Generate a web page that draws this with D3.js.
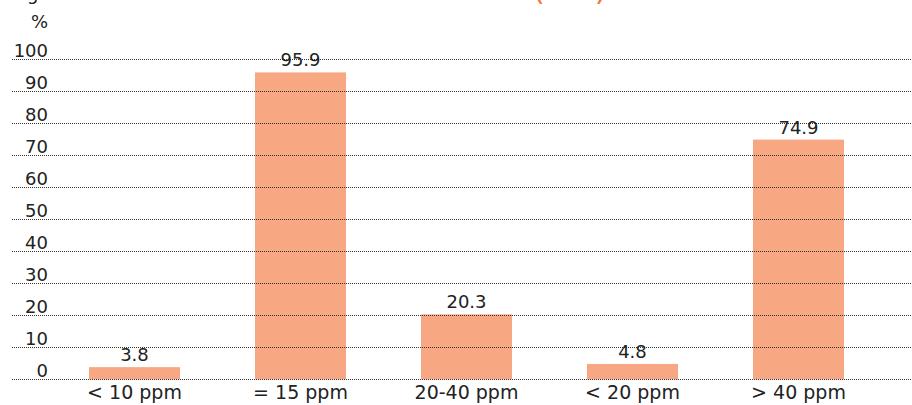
<!DOCTYPE html>
<html>
<head>
<meta charset="utf-8">
<script src="https://cdn.jsdelivr.net/npm/d3@7/dist/d3.min.js"></script>
<style>
  html, body { margin: 0; padding: 0; background: #fff; }
  svg { display: block; font-family: "DejaVu Sans", Verdana, sans-serif; }
</style>
</head>
<body>
<svg id="chart" width="912" height="405"></svg>
<script>
// Share of fuel by sulphur content, %
const categories = ["< 10 ppm", "= 15 ppm", "20-40 ppm", "< 20 ppm", "> 40 ppm"];
const values = [3.8, 95.9, 20.3, 4.8, 74.9];
const yTicks = [0, 10, 20, 30, 40, 50, 60, 70, 80, 90, 100];
const unitLabel = "%";
const titleText = "Figure 1. Sulfur content of motor fuels";
const titleNote = "(2005)";

const W = 912, H = 405;
const svg = d3.select("#chart");

const x = d3.scaleBand()
  .domain(categories)
  .range([51.5, 881.5])
  .paddingInner(0.452)
  .paddingOuter(0.226);

const y = d3.scaleLinear()
  .domain([0, 100])
  .range([379.3, 59.3]);

const barColor = "#F7A781";
const textColor = "#222";

// Title line, sitting above the top edge of the chart area
svg.append("text")
  .attr("x", 13).attr("y", 0)
  .attr("font-size", 18)
  .attr("fill", textColor)
  .text(titleText);
const note = svg.append("text")
  .attr("x", 533).attr("y", 0)
  .attr("fill", "#F4773F");
note.append("tspan").attr("font-size", 30).text(titleNote.slice(0, 1));
note.append("tspan").attr("font-size", 18).attr("font-weight", "bold").attr("dy", -3).text(titleNote.slice(1, -1));
note.append("tspan").attr("font-size", 30).attr("dy", 3).text(titleNote.slice(-1));

// Bars
svg.append("g").selectAll("rect")
  .data(values)
  .join("rect")
  .attr("x", (d, i) => x(categories[i]))
  .attr("width", x.bandwidth())
  .attr("y", d => y(d))
  .attr("height", d => y(0) - y(d))
  .attr("fill", barColor);

// Dotted gridlines drawn over the bars
svg.append("g").selectAll("line")
  .data(yTicks)
  .join("line")
  .attr("x1", 12).attr("x2", W)
  .attr("y1", d => Math.round(y(d)) + 0.5)
  .attr("y2", d => Math.round(y(d)) + 0.5)
  .attr("stroke", "#333")
  .attr("stroke-width", 1)
  .attr("stroke-dasharray", "1,1");

// Y tick labels
svg.append("g").selectAll("text")
  .data(yTicks)
  .join("text")
  .attr("x", 48)
  .attr("y", d => y(d) - 2.5)
  .attr("text-anchor", "end")
  .attr("font-size", 18)
  .attr("fill", textColor)
  .text(d => d);

svg.append("text")
  .attr("x", 48).attr("y", 28)
  .attr("text-anchor", "end")
  .attr("font-size", 18)
  .attr("fill", textColor)
  .text(unitLabel);

// Value labels
svg.append("g").selectAll("text")
  .data(values)
  .join("text")
  .attr("x", (d, i) => x(categories[i]) + x.bandwidth() / 2)
  .attr("y", d => y(d) - 6)
  .attr("text-anchor", "middle")
  .attr("font-size", 18)
  .attr("fill", textColor)
  .text(d => d.toFixed(1));

// Category labels
svg.append("g").selectAll("text")
  .data(categories)
  .join("text")
  .attr("x", d => x(d) + x.bandwidth() / 2)
  .attr("y", 399)
  .attr("text-anchor", "middle")
  .attr("font-size", 19)
  .attr("fill", textColor)
  .text(d => d);
</script>
</body>
</html>
